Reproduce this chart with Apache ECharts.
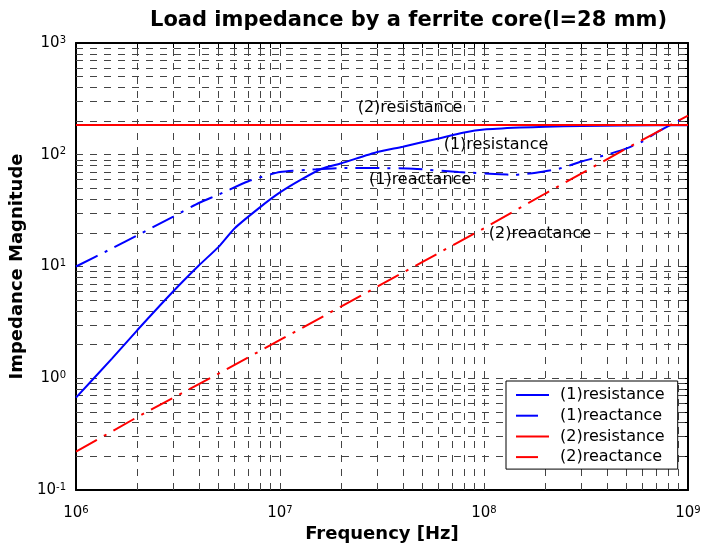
<!DOCTYPE html>
<html><head><meta charset="utf-8">
<script src="https://cdn.jsdelivr.net/npm/echarts@6/dist/echarts.min.js"></script>
<style>html,body{margin:0;padding:0;background:#fff}#c{width:702px;height:545px}</style>
</head><body><div id="c"></div>
<script>
// ---- data ----
const xTicks = [1e6, 1e7, 1e8, 1e9];
const yTicks = [0.1, 1, 10, 100, 1000];

const seriesNames = ['(1)resistance', '(1)reactance', '(2)resistance', '(2)reactance'];

const res1Freq = [1e6, 1.5e6, 2e6, 3e6, 4e6, 5e6, 6e6, 8e6, 1e7, 1.25e7, 1.6e7, 2e7, 3e7, 4e7, 6e7, 8e7, 1e8, 1.5e8, 2e8, 3e8, 5e8, 1e9];
const res1Vals = [0.67, 1.5, 2.7, 6.0, 10.2, 15, 22, 34, 46, 59, 75, 84, 106, 118, 140, 158, 168, 175, 178, 181, 183, 184];

const react1Freq = [1e6, 1.5e6, 2e6, 3e6, 4e6, 5e6, 7e6, 1e7, 1.5e7, 2e7, 3e7, 4.5e7, 7.5e7, 1.2e8, 1.4e8, 1.8e8, 2.4e8, 3e8, 4e8, 5e8, 6e8, 7e8, 8e8, 1e9];
const react1Vals = [10, 14.5, 19, 28, 37, 44, 58, 70, 74, 76, 76, 75, 70, 67, 66, 69, 76, 87, 100, 114, 132, 158, 180, 222];

const res2Freq = [1e6, 1e9];
const res2Vals = [185, 185];

const react2Freq = [1e6, 2e6, 5e6, 1e7, 2e7, 5e7, 1e8, 2e8, 5e8, 1e9];
const react2Vals = [0.22, 0.45, 1.1, 2.2, 4.4, 11, 22, 45, 114, 224];

const annoFreq = [4.34e7, 1.145e8, 4.86e7, 1.88e8];
const annoVals = [262, 122, 59.4, 19.5];
const annoText = ['(2)resistance', '(1)resistance', '(1)reactance', '(2)reactance'];

// ---- helpers ----
function zip(a, b) { return a.map((v, i) => [v, b[i]]); }
function logSteps(lo, hi) {
  const out = [];
  for (let e = lo; e < hi; e++) for (let k = 1; k < 10; k++) out.push(k * Math.pow(10, e));
  out.push(Math.pow(10, hi));
  return out;
}
const xAll = logSteps(6, 9);
const yAll = logSteps(-1, 3);
const xGrid = xAll.filter(v => v > xTicks[0] * 1.001 && v < xTicks[xTicks.length - 1] * 0.999);
const yGrid = yAll.filter(v => v > yTicks[0] * 1.001 && v < yTicks[yTicks.length - 1] * 0.999);

const FONT = 'DejaVu Sans';
const supFmt = v => '{b|10}{s|' + Math.round(Math.log10(v)) + '}';
const rich = {
  b: { fontFamily: FONT, fontSize: 15, color: '#000', lineHeight: 16, verticalAlign: 'middle' },
  s: { fontFamily: FONT, fontSize: 10, color: '#000', lineHeight: 10, verticalAlign: 'top' }
};
const dashGrid = { type: [7, 7], color: '#444', width: 1 };
const BLUE = '#0000ff', RED = '#ff0000';
const DASHDOT = [24, 8, 3, 8];
const hiddenSym = { opacity: 0, color: 'transparent', borderWidth: 0 };

const chart = echarts.init(document.getElementById('c'), null, { renderer: 'canvas' });
chart.setOption({
  animation: false,
  backgroundColor: '#fff',
  title: {
    text: 'Load impedance by a ferrite core(l=28 mm)',
    left: 150, top: 10, padding: 0,
    textStyle: { fontFamily: FONT, fontWeight: 'bold', fontSize: 21, color: '#000' }
  },
  grid: { left: 76, top: 43, right: 14, bottom: 55, containLabel: false, outerBoundsMode: 'none' },
  legend: {
    orient: 'vertical', left: 506, top: 381, z: 20,
    padding: [5, 13, 3, 9], itemGap: 2.7, itemWidth: 33, itemHeight: 14,
    backgroundColor: '#fff', borderColor: '#000', borderWidth: 1, borderRadius: 0,
    itemStyle: hiddenSym,
    textStyle: { fontFamily: FONT, fontSize: 16, color: '#000', lineHeight: 18, padding: [0, 0, 0, 6] },
    data: [
      { name: seriesNames[0], itemStyle: hiddenSym },
      { name: seriesNames[1], itemStyle: hiddenSym, lineStyle: { type: [22, 100] } },
      { name: seriesNames[2], itemStyle: hiddenSym },
      { name: seriesNames[3], itemStyle: hiddenSym, lineStyle: { type: [22, 100] } }
    ]
  },
  xAxis: [{
    type: 'log', logBase: 10, min: xTicks[0], max: xTicks[xTicks.length - 1],
    name: 'Frequency [Hz]', nameLocation: 'middle', nameGap: 27,
    nameTextStyle: { fontFamily: FONT, fontWeight: 'bold', fontSize: 18, color: '#000' },
    axisLine: { show: true, lineStyle: { color: '#000', width: 2 } },
    axisTick: { show: true, inside: true, length: 5, customValues: xAll, lineStyle: { color: '#000' } },
    axisLabel: { show: true, margin: 15, formatter: supFmt, rich: rich, customValues: xTicks },
    splitLine: { show: false }
  }, {
    type: 'log', logBase: 10, min: xTicks[0], max: xTicks[xTicks.length - 1], position: 'top',
    axisLine: { show: true, onZero: false, lineStyle: { color: '#000', width: 2 } },
    axisTick: { show: true, inside: true, length: 5, customValues: xAll, lineStyle: { color: '#000' } },
    axisLabel: { show: false }, splitLine: { show: false }
  }],
  yAxis: [{
    type: 'log', logBase: 10, min: yTicks[0], max: yTicks[yTicks.length - 1],
    name: 'Impedance Magnitude', nameLocation: 'middle', nameGap: 50, nameRotate: 90,
    nameTextStyle: { fontFamily: FONT, fontWeight: 'bold', fontSize: 18, color: '#000' },
    axisLine: { show: true, lineStyle: { color: '#000', width: 2 } },
    axisTick: { show: true, inside: true, length: 5, customValues: yAll, lineStyle: { color: '#000' } },
    axisLabel: { show: true, margin: 10, formatter: supFmt, rich: rich, customValues: yTicks },
    splitLine: { show: false }
  }, {
    type: 'log', logBase: 10, min: yTicks[0], max: yTicks[yTicks.length - 1], position: 'right',
    axisLine: { show: true, onZero: false, lineStyle: { color: '#000', width: 2 } },
    axisTick: { show: true, inside: true, length: 5, customValues: yAll, lineStyle: { color: '#000' } },
    axisLabel: { show: false }, splitLine: { show: false }
  }],
  series: [
    {
      name: 'grid', type: 'line', z: 1, data: [[xTicks[0], res2Vals[0]]], symbol: 'none',
      lineStyle: { width: 0, opacity: 0 },
      markLine: {
        z: 1, silent: true, symbol: ['none', 'none'], label: { show: false }, animation: false,
        lineStyle: dashGrid, emphasis: { disabled: true },
        data: xGrid.map(v => ({ xAxis: v })).concat(yGrid.map(v => ({ yAxis: v })))
      }
    },
    { name: seriesNames[0], type: 'line', z: 3, symbol: 'none', smooth: 0.2, data: zip(res1Freq, res1Vals),
      lineStyle: { color: BLUE, width: 2 }, itemStyle: { color: BLUE } },
    { name: seriesNames[1], type: 'line', z: 3, symbol: 'none', smooth: 0.2, data: zip(react1Freq, react1Vals),
      lineStyle: { color: BLUE, width: 2, type: DASHDOT }, itemStyle: { color: BLUE } },
    { name: seriesNames[2], type: 'line', z: 4, symbol: 'none', data: zip(res2Freq, res2Vals),
      lineStyle: { color: RED, width: 2 }, itemStyle: { color: RED } },
    { name: seriesNames[3], type: 'line', z: 4, symbol: 'none', data: zip(react2Freq, react2Vals),
      lineStyle: { color: RED, width: 2, type: DASHDOT }, itemStyle: { color: RED } },
    {
      name: 'labels', type: 'scatter', z: 5, symbolSize: 1, itemStyle: { color: 'transparent' },
      data: annoFreq.map((f, i) => [f, annoVals[i], annoText[i]]),
      label: { show: true, position: 'inside', formatter: p => p.data[2],
        fontFamily: FONT, fontSize: 16, color: '#000', textBorderWidth: 0, opacity: 1 },
      emphasis: { disabled: true }
    }
  ]
});
</script></body></html>
